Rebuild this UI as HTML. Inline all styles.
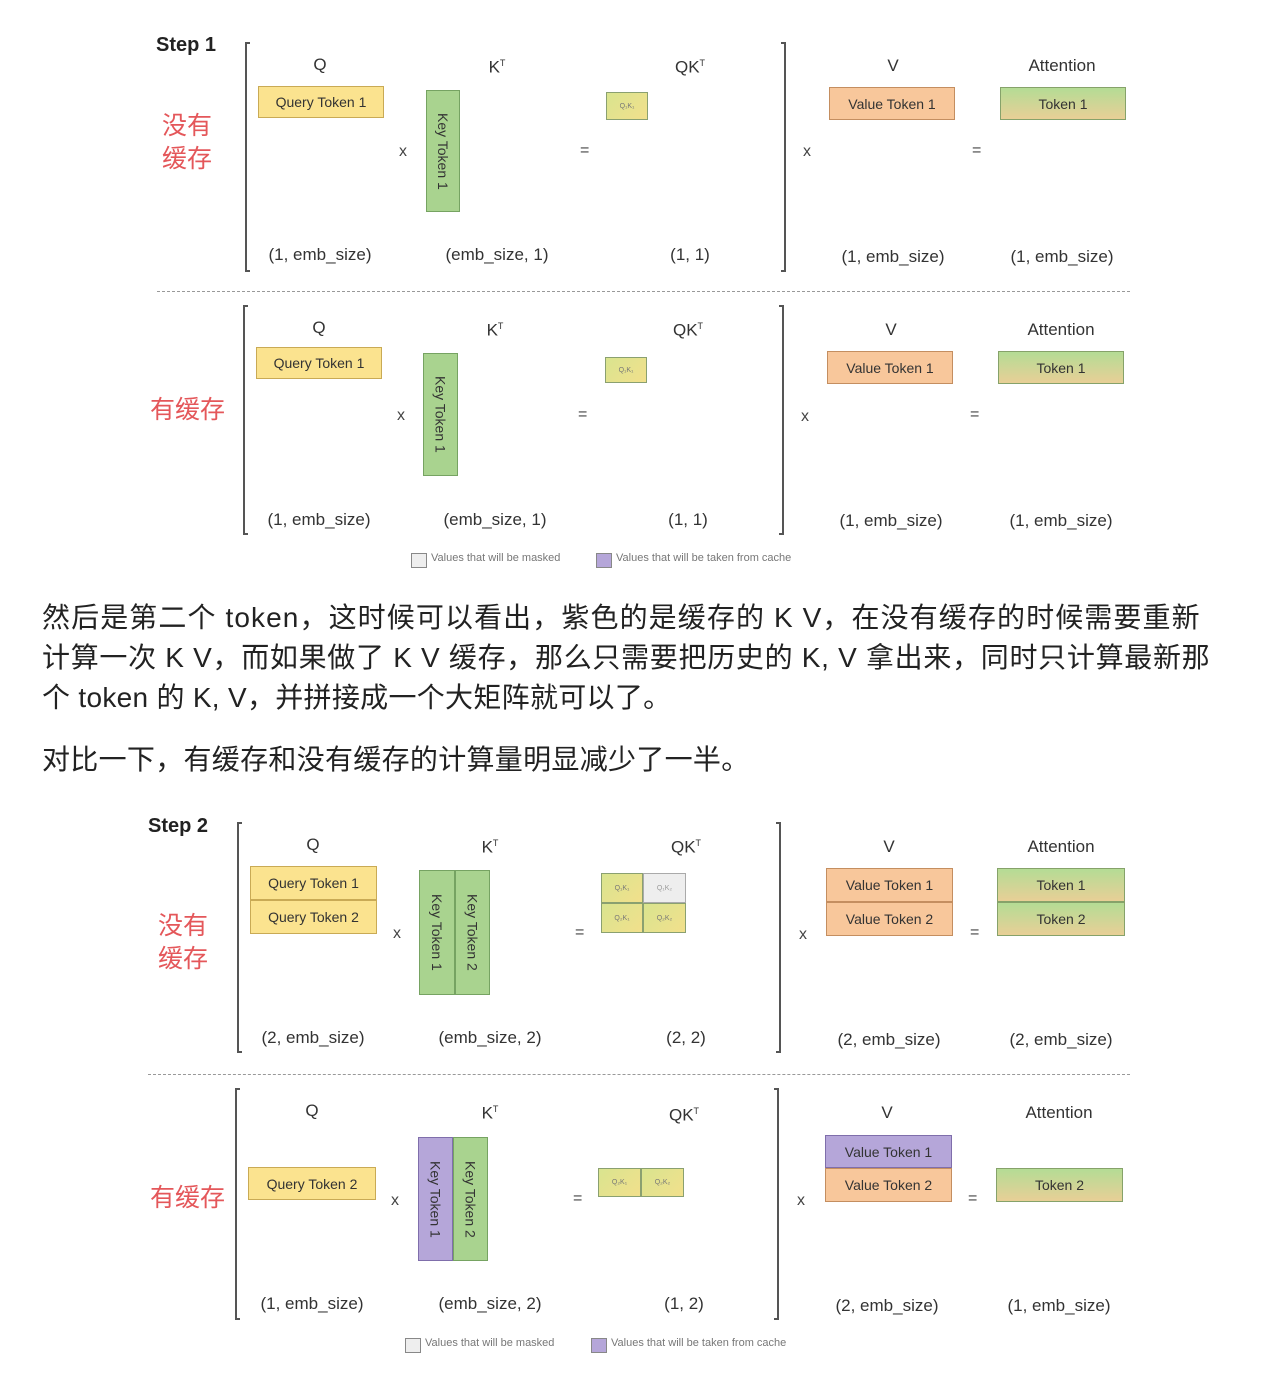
<!DOCTYPE html>
<html><head><meta charset="utf-8"><style>
*{margin:0;padding:0;box-sizing:border-box}
body{width:1279px;height:1398px;background:#fff;position:relative;overflow:hidden;font-family:"Liberation Sans","Noto Sans CJK SC",sans-serif;color:#333}
div{position:absolute}
.t{width:200px;text-align:center;font-size:17px;color:#333;line-height:20px}
.op{font-size:16px;color:#444}
.b{display:flex;align-items:center;justify-content:center;font-size:14px;color:#333;border:1.5px solid}
.y{background:#fbe38f;border-color:#c9aa55}
.g{background:#a9d38f;border-color:#76a362}
.o{background:#f8c79b;border-color:#c48e60}
.p{background:#b5a6d9;border-color:#7f6eab}
.att{background:linear-gradient(#b4dc95,#e8cf96);border-color:#86a26a}
.c{background:linear-gradient(135deg,#d9e48f,#f2e08c);border-color:#8aa070;font-size:7px;color:#777}
.w{background:#eee;border-color:#aaa;font-size:7px;color:#999}
.v{writing-mode:vertical-rl}
.lb{border-left:2px solid #555;border-top:2px solid #555;border-bottom:2px solid #555;width:5px}
.rb{border-right:2px solid #555;border-top:2px solid #555;border-bottom:2px solid #555;width:5px}
.red{color:#e4575a;font-size:25px;line-height:33px}
.dash{border-top:1.5px dashed #999;height:0}
.lg{font-size:11px;color:#777;white-space:nowrap}
.lgb{width:16px;height:15px;border:1px solid #888}
.para{left:42px;font-size:28px;color:#222;white-space:nowrap;line-height:34px;letter-spacing:0.3px}
</style></head><body>

<!-- Step 1 -->
<div style="left:156px;top:34px;font-size:20px;font-weight:bold;color:#222">Step 1</div>
<div class="red" style="left:162px;top:110px">没有<br>缓存</div>
<div class="lb" style="left:245px;top:42px;height:230px"></div>
<div class="rb" style="left:781px;top:42px;height:230px"></div>
<div class="t" style="left:220px;top:55px">Q</div>
<div class="t" style="left:397px;top:53px">K<sup style="font-size:9px">T</sup></div>
<div class="t" style="left:590px;top:53px">QK<sup style="font-size:9px">T</sup></div>
<div class="t" style="left:793px;top:56px">V</div>
<div class="t" style="left:962px;top:56px">Attention</div>
<div class="b y" style="left:258px;top:86px;width:126px;height:32px">Query Token 1</div>
<div class="op" style="left:399px;top:143px">x</div>
<div class="b g v" style="left:426px;top:90px;width:34px;height:122px">Key Token 1</div>
<div class="op" style="left:580px;top:142px">=</div>
<div class="b c" style="left:606px;top:92px;width:42px;height:28px">Q₁K₁</div>
<div class="op" style="left:803px;top:143px">x</div>
<div class="b o" style="left:829px;top:87px;width:126px;height:33px">Value Token 1</div>
<div class="op" style="left:972px;top:142px">=</div>
<div class="b att" style="left:1000px;top:87px;width:126px;height:33px">Token 1</div>
<div class="t" style="left:220px;top:245px">(1, emb_size)</div>
<div class="t" style="left:397px;top:245px">(emb_size, 1)</div>
<div class="t" style="left:590px;top:245px">(1, 1)</div>
<div class="t" style="left:793px;top:247px">(1, emb_size)</div>
<div class="t" style="left:962px;top:247px">(1, emb_size)</div>

<div class="dash" style="left:157px;top:291px;width:973px"></div>

<div class="red" style="left:150px;top:394px">有缓存</div>
<div class="lb" style="left:243px;top:305px;height:230px"></div>
<div class="rb" style="left:779px;top:305px;height:230px"></div>
<div class="t" style="left:219px;top:318px">Q</div>
<div class="t" style="left:395px;top:316px">K<sup style="font-size:9px">T</sup></div>
<div class="t" style="left:588px;top:316px">QK<sup style="font-size:9px">T</sup></div>
<div class="t" style="left:791px;top:320px">V</div>
<div class="t" style="left:961px;top:320px">Attention</div>
<div class="b y" style="left:256px;top:347px;width:126px;height:32px">Query Token 1</div>
<div class="op" style="left:397px;top:407px">x</div>
<div class="b g v" style="left:423px;top:353px;width:35px;height:123px">Key Token 1</div>
<div class="op" style="left:578px;top:406px">=</div>
<div class="b c" style="left:605px;top:357px;width:42px;height:26px">Q₁K₁</div>
<div class="op" style="left:801px;top:408px">x</div>
<div class="b o" style="left:827px;top:351px;width:126px;height:33px">Value Token 1</div>
<div class="op" style="left:970px;top:406px">=</div>
<div class="b att" style="left:998px;top:351px;width:126px;height:33px">Token 1</div>
<div class="t" style="left:219px;top:510px">(1, emb_size)</div>
<div class="t" style="left:395px;top:510px">(emb_size, 1)</div>
<div class="t" style="left:588px;top:510px">(1, 1)</div>
<div class="t" style="left:791px;top:511px">(1, emb_size)</div>
<div class="t" style="left:961px;top:511px">(1, emb_size)</div>
<div class="lgb" style="left:411px;top:553px;background:#eee"></div>
<div class="lg" style="left:431px;top:552px">Values that will be masked</div>
<div class="lgb p" style="left:596px;top:553px"></div>
<div class="lg" style="left:616px;top:552px">Values that will be taken from cache</div>

<!-- paragraph -->
<div class="para" style="top:601px;letter-spacing:1.1px">然后是第二个 token，这时候可以看出，紫色的是缓存的 K V，在没有缓存的时候需要重新</div>
<div class="para" style="top:641px;letter-spacing:0.7px">计算一次 K V，而如果做了 K V 缓存，那么只需要把历史的 K, V 拿出来，同时只计算最新那</div>
<div class="para" style="top:681px">个 token 的 K, V，并拼接成一个大矩阵就可以了。</div>
<div class="para" style="top:743px">对比一下，有缓存和没有缓存的计算量明显减少了一半。</div>

<!-- Step 2 -->
<div style="left:148px;top:815px;font-size:20px;font-weight:bold;color:#222">Step 2</div>
<div class="red" style="left:158px;top:910px">没有<br>缓存</div>
<div class="lb" style="left:237px;top:822px;height:231px"></div>
<div class="rb" style="left:776px;top:822px;height:231px"></div>
<div class="t" style="left:213px;top:835px">Q</div>
<div class="t" style="left:390px;top:833px">K<sup style="font-size:9px">T</sup></div>
<div class="t" style="left:586px;top:833px">QK<sup style="font-size:9px">T</sup></div>
<div class="t" style="left:789px;top:837px">V</div>
<div class="t" style="left:961px;top:837px">Attention</div>
<div class="b y" style="left:250px;top:866px;width:127px;height:34px">Query Token 1</div>
<div class="b y" style="left:250px;top:900px;width:127px;height:34px">Query Token 2</div>
<div class="op" style="left:393px;top:925px">x</div>
<div class="b g v" style="left:419px;top:870px;width:36px;height:125px">Key Token 1</div>
<div class="b g v" style="left:455px;top:870px;width:35px;height:125px">Key Token 2</div>
<div class="op" style="left:575px;top:924px">=</div>
<div class="b c" style="left:601px;top:873px;width:42px;height:30px">Q₁K₁</div>
<div class="b w" style="left:643px;top:873px;width:43px;height:30px">Q₁K₂</div>
<div class="b c" style="left:601px;top:903px;width:42px;height:30px">Q₂K₁</div>
<div class="b c" style="left:643px;top:903px;width:43px;height:30px">Q₂K₂</div>
<div class="op" style="left:799px;top:926px">x</div>
<div class="b o" style="left:826px;top:868px;width:127px;height:34px">Value Token 1</div>
<div class="b o" style="left:826px;top:902px;width:127px;height:34px">Value Token 2</div>
<div class="op" style="left:970px;top:924px">=</div>
<div class="b att" style="left:997px;top:868px;width:128px;height:34px">Token 1</div>
<div class="b att" style="left:997px;top:902px;width:128px;height:34px">Token 2</div>
<div class="t" style="left:213px;top:1028px">(2, emb_size)</div>
<div class="t" style="left:390px;top:1028px">(emb_size, 2)</div>
<div class="t" style="left:586px;top:1028px">(2, 2)</div>
<div class="t" style="left:789px;top:1030px">(2, emb_size)</div>
<div class="t" style="left:961px;top:1030px">(2, emb_size)</div>

<div class="dash" style="left:148px;top:1074px;width:982px"></div>

<div class="red" style="left:150px;top:1182px">有缓存</div>
<div class="lb" style="left:235px;top:1088px;height:232px"></div>
<div class="rb" style="left:774px;top:1088px;height:232px"></div>
<div class="t" style="left:212px;top:1101px">Q</div>
<div class="t" style="left:390px;top:1099px">K<sup style="font-size:9px">T</sup></div>
<div class="t" style="left:584px;top:1101px">QK<sup style="font-size:9px">T</sup></div>
<div class="t" style="left:787px;top:1103px">V</div>
<div class="t" style="left:959px;top:1103px">Attention</div>
<div class="b y" style="left:248px;top:1167px;width:128px;height:33px">Query Token 2</div>
<div class="op" style="left:391px;top:1192px">x</div>
<div class="b p v" style="left:418px;top:1137px;width:35px;height:124px">Key Token 1</div>
<div class="b g v" style="left:453px;top:1137px;width:35px;height:124px">Key Token 2</div>
<div class="op" style="left:573px;top:1190px">=</div>
<div class="b c" style="left:598px;top:1168px;width:43px;height:29px">Q₂K₁</div>
<div class="b c" style="left:641px;top:1168px;width:43px;height:29px">Q₂K₂</div>
<div class="op" style="left:797px;top:1192px">x</div>
<div class="b p" style="left:825px;top:1135px;width:127px;height:33px">Value Token 1</div>
<div class="b o" style="left:825px;top:1168px;width:127px;height:34px">Value Token 2</div>
<div class="op" style="left:968px;top:1190px">=</div>
<div class="b att" style="left:996px;top:1168px;width:127px;height:34px">Token 2</div>
<div class="t" style="left:212px;top:1294px">(1, emb_size)</div>
<div class="t" style="left:390px;top:1294px">(emb_size, 2)</div>
<div class="t" style="left:584px;top:1294px">(1, 2)</div>
<div class="t" style="left:787px;top:1296px">(2, emb_size)</div>
<div class="t" style="left:959px;top:1296px">(1, emb_size)</div>
<div class="lgb" style="left:405px;top:1338px;background:#eee"></div>
<div class="lg" style="left:425px;top:1337px">Values that will be masked</div>
<div class="lgb p" style="left:591px;top:1338px"></div>
<div class="lg" style="left:611px;top:1337px">Values that will be taken from cache</div>
</body></html>
